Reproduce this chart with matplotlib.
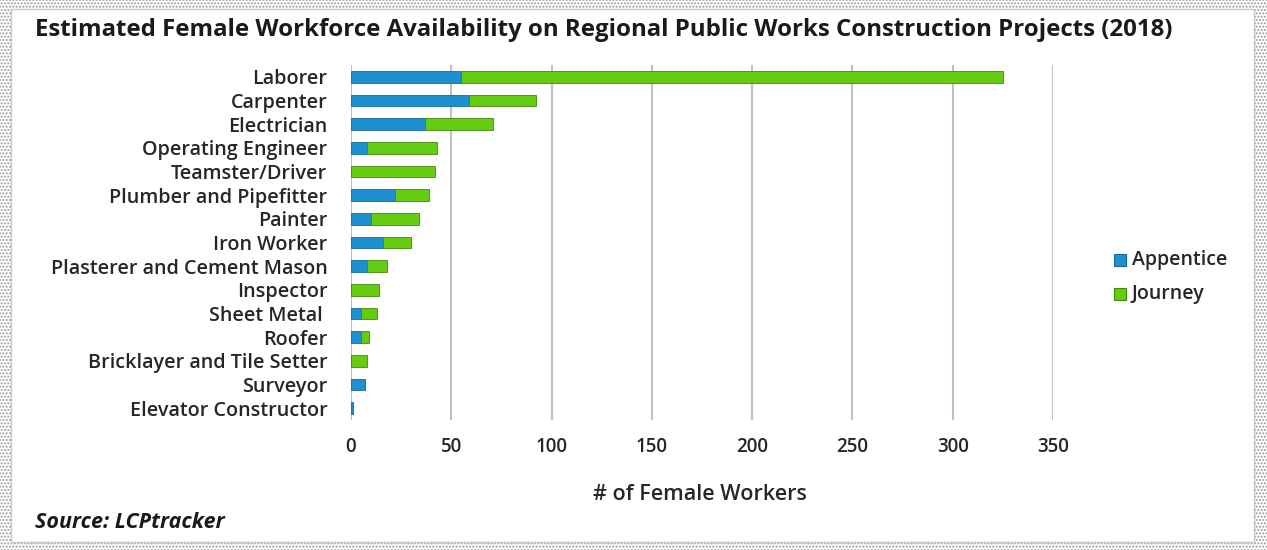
import numpy as np
import matplotlib.pyplot as plt
from matplotlib.patches import Rectangle

plt.rcParams['font.family'] = ['Open Sans', 'DejaVu Sans']

trades = ['Laborer', 'Carpenter', 'Electrician', 'Operating Engineer', 'Teamster/Driver',
          'Plumber and Pipefitter', 'Painter', 'Iron Worker', 'Plasterer and Cement Mason',
          'Inspector', 'Sheet Metal ', 'Roofer', 'Bricklayer and Tile Setter', 'Surveyor',
          'Elevator Constructor']
apprentice = [55, 59, 37, 8, 0, 22, 10, 16, 8, 0, 5, 5, 0, 7, 1]
journey = [270, 33, 34, 35, 42, 17, 24, 14, 10, 14, 8, 4, 8, 0, 0]
xticks = [0, 50, 100, 150, 200, 250, 300, 350]

blue = '#1f8fd0'
green = '#66cc11'
txt = '#262626'

fig = plt.figure(figsize=(12.67, 5.5), dpi=100)

# dotted frame around the picture
frame = Rectangle((0, 0), 1, 1, transform=fig.transFigure, facecolor='white',
                  edgecolor='#9a9a9a', hatch='.....', linewidth=0, zorder=-10)
fig.patches.append(frame)
inner = Rectangle((0.009, 0.014), 0.981, 0.97, transform=fig.transFigure,
                  facecolor='white', edgecolor='#c8c8c8', linewidth=1.0, zorder=-9)
fig.patches.append(inner)

ax = fig.add_axes([351/1267, 1 - 420/550, (1053 - 351)/1267, (420 - 65)/550])
y = np.arange(len(trades))
ax.barh(y, apprentice, height=0.5, color=blue, edgecolor='#17689a', linewidth=0.6, zorder=3)
ax.barh(y, journey, left=apprentice, height=0.5, color=green, edgecolor='#3f8a0a',
        linewidth=0.6, zorder=3)
ax.set_ylim(len(trades) - 0.5, -0.5)
ax.set_xlim(0, 350)
ax.set_xticks(xticks)
ax.set_xticklabels([str(t) for t in xticks], fontsize=13.5, fontweight='semibold', color=txt)
ax.set_yticks(y)
ax.set_yticklabels(trades, fontsize=14.2, fontweight='semibold', color=txt)
ax.tick_params(length=0)
ax.tick_params(axis='y', pad=17)
ax.tick_params(axis='x', pad=12)
ax.grid(axis='x', color='#c0c0c0', linewidth=1.5, zorder=0)
for s in ax.spines.values():
    s.set_visible(False)
ax.axvline(0, color='#bdbdbd', linewidth=1.2, zorder=2)

fig.text(35/1267, 1 - 30/550, 'Estimated Female Workforce Availability on Regional Public Works Construction Projects (2018)',
         fontsize=17.3, fontweight='bold', color='#1a1a1a', va='center', ha='left')
fig.text(700/1267, 1 - 495/550, '# of Female Workers', fontsize=15.5, fontweight='semibold',
         color=txt, ha='center', va='center')
fig.text(35/1267, 1 - 523/550, 'Source: LCPtracker', fontsize=15.5, fontweight='bold',
         style='italic', color='#1a1a1a', ha='left', va='center')

# legend
for i, (lab, col, ec) in enumerate([('Appentice', blue, '#17689a'), ('Journey', green, '#3f8a0a')]):
    yy = 1 - (260 + 34 * i) / 550
    fig.patches.append(Rectangle((1114/1267, yy - 6/550), 12/1267, 12/550, transform=fig.transFigure,
                                 facecolor=col, edgecolor=ec, linewidth=0.8))
    fig.text(1132/1267, yy, lab, fontsize=14, fontweight='semibold', color=txt,
             ha='left', va='center')

fig.savefig('out.png', dpi=100)
